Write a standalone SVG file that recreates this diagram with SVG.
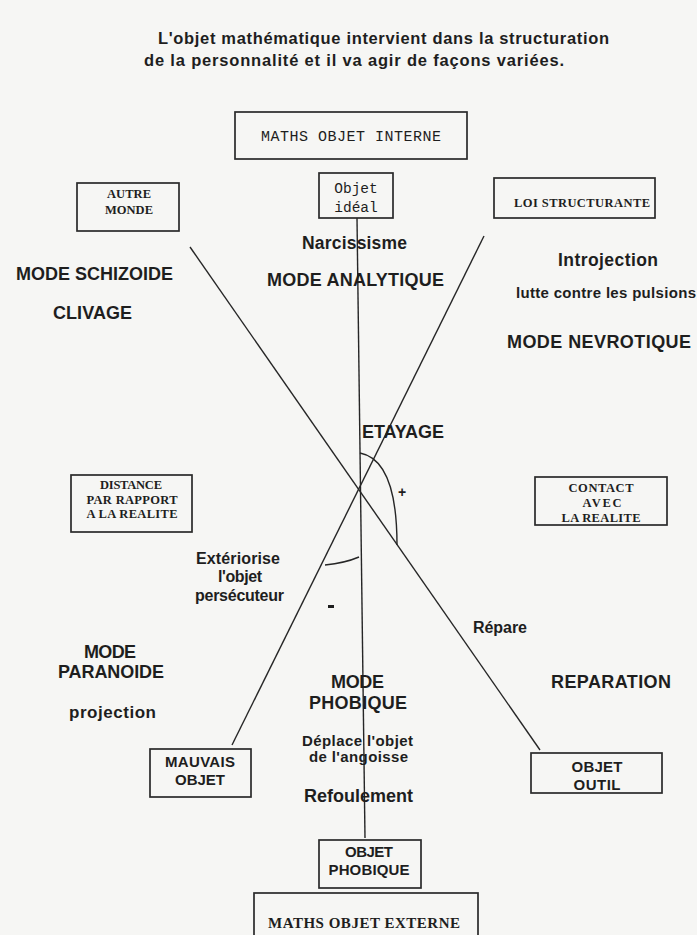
<svg xmlns="http://www.w3.org/2000/svg" width="697" height="935" viewBox="0 0 697 935">
<style>
.box{fill:none;stroke:#2a2a2a;stroke-width:1.7}
.ln{fill:none;stroke:#262626;stroke-width:1.4}
.sb{font-family:"Liberation Sans",Arial,sans-serif;font-weight:bold;fill:#1e1e1e}
.sf{font-family:"Liberation Serif","Times New Roman",serif;font-weight:bold;fill:#1e1e1e}
.mo{font-family:"Liberation Mono","Courier New",monospace;fill:#1e1e1e}
.c{text-anchor:middle}
</style>
<rect x="0" y="0" width="697" height="935" fill="#f6f6f4"/>

<g id="title">
<text class="sb" x="158" y="44" font-size="16.5" textLength="451">L'objet mathématique intervient dans la structuration</text>
<text class="sb" x="144" y="66" font-size="16.5" textLength="420">de la personnalité et il va agir de façons variées.</text>
</g>

<g id="connectors">
<line class="ln" x1="357" y1="218" x2="365" y2="838"/>
<line class="ln" x1="190" y1="247" x2="540" y2="750"/>
<line class="ln" x1="484" y1="236" x2="232" y2="745"/>
<path class="ln" d="M360,453 Q397,460 397,545"/>
<path class="ln" d="M359,557 Q345,563 325,565"/>
</g>

<g id="maths-objet-interne">
<rect class="box" x="235" y="112" width="232" height="47"/>
<text class="mo c" x="351" y="141" font-size="15" textLength="180">MATHS OBJET INTERNE</text>
</g>
<g id="objet-ideal">
<rect class="box" x="319" y="173" width="74" height="45"/>
<text class="mo c" x="356" y="193" font-size="14.5">Objet</text>
<text class="mo c" x="356" y="212" font-size="14.5">idéal</text>
</g>
<g id="autre-monde">
<rect class="box" x="77" y="183" width="102" height="48"/>
<text class="sf c" x="129" y="198" font-size="12.5" textLength="44">AUTRE</text>
<text class="sf c" x="129" y="214" font-size="12.5" textLength="48">MONDE</text>
</g>
<g id="loi-structurante">
<rect class="box" x="494" y="178" width="161" height="40"/>
<text class="sf" x="514" y="207" font-size="12.5" textLength="136">LOI STRUCTURANTE</text>
</g>
<g id="distance">
<rect class="box" x="71" y="475" width="121" height="57"/>
<text class="sf c" x="131" y="489" font-size="12.5" textLength="62">DISTANCE</text>
<text class="sf c" x="132" y="504" font-size="12.5" textLength="91">PAR RAPPORT</text>
<text class="sf c" x="132" y="518" font-size="12.5" textLength="91">A LA REALITE</text>
</g>
<g id="contact">
<rect class="box" x="535" y="477" width="132" height="48"/>
<text class="sf c" x="601" y="492" font-size="12.5" textLength="65">CONTACT</text>
<text class="sf c" x="602" y="507" font-size="12.5" textLength="39">AVEC</text>
<text class="sf c" x="601" y="522" font-size="12.5" textLength="79">LA REALITE</text>
</g>
<g id="mauvais-objet">
<rect class="box" x="150" y="749" width="101" height="48"/>
<text class="sb c" x="200" y="767" font-size="15" textLength="70">MAUVAIS</text>
<text class="sb c" x="200" y="785" font-size="15" textLength="50">OBJET</text>
</g>
<g id="objet-outil">
<rect class="box" x="531" y="753" width="131" height="40"/>
<text class="sb c" x="597" y="772" font-size="15" textLength="51">OBJET</text>
<text class="sb c" x="597" y="790" font-size="15" textLength="47">OUTIL</text>
</g>
<g id="objet-phobique">
<rect class="box" x="319" y="840" width="102" height="48"/>
<text class="sb c" x="369" y="857" font-size="15" textLength="48">OBJET</text>
<text class="sb c" x="369" y="875" font-size="15" textLength="81">PHOBIQUE</text>
</g>
<g id="maths-objet-externe">
<rect class="box" x="254" y="893" width="224" height="50"/>
<text class="sf" x="268" y="928" font-size="15" textLength="192">MATHS OBJET EXTERNE</text>
</g>

<g id="labels">
<text class="sb" x="302" y="249" font-size="17.5" textLength="105">Narcissisme</text>
<text class="sb" x="16" y="280" font-size="18" textLength="157">MODE SCHIZOIDE</text>
<text class="sb" x="267" y="286" font-size="18" textLength="177">MODE ANALYTIQUE</text>
<text class="sb" x="558" y="266" font-size="17.5" textLength="100">Introjection</text>
<text class="sb" x="516" y="298" font-size="15" textLength="180">lutte contre les pulsions</text>
<text class="sb" x="53" y="319" font-size="18" textLength="79">CLIVAGE</text>
<text class="sb" x="507" y="348" font-size="18" textLength="184">MODE NEVROTIQUE</text>
<text class="sb" x="362" y="438" font-size="18" textLength="82">ETAYAGE</text>
<text class="sb" x="398" y="497" font-size="14" font-weight="normal">+</text>
<text class="sb" x="196" y="564" font-size="16" textLength="84">Extériorise</text>
<text class="sb" x="218" y="582" font-size="16" textLength="44">l'objet</text>
<text class="sb" x="195" y="601" font-size="16" textLength="89">persécuteur</text>
<rect x="328" y="605" width="6" height="3" fill="#1e1e1e"/>
<text class="sb" x="473" y="633" font-size="16" textLength="54">Répare</text>
<text class="sb" x="84" y="658" font-size="18" textLength="52">MODE</text>
<text class="sb" x="58" y="678" font-size="18" textLength="106">PARANOIDE</text>
<text class="sb" x="331" y="688" font-size="18" textLength="53">MODE</text>
<text class="sb" x="551" y="688" font-size="18" textLength="120">REPARATION</text>
<text class="sb" x="309" y="709" font-size="18" textLength="98">PHOBIQUE</text>
<text class="sb" x="69" y="718" font-size="17" textLength="87">projection</text>
<text class="sb" x="302" y="746" font-size="15" textLength="111">Déplace l'objet</text>
<text class="sb" x="309" y="762" font-size="15" textLength="99">de l'angoisse</text>
<text class="sb" x="304" y="802" font-size="18" textLength="109">Refoulement</text>
</g>
</svg>
